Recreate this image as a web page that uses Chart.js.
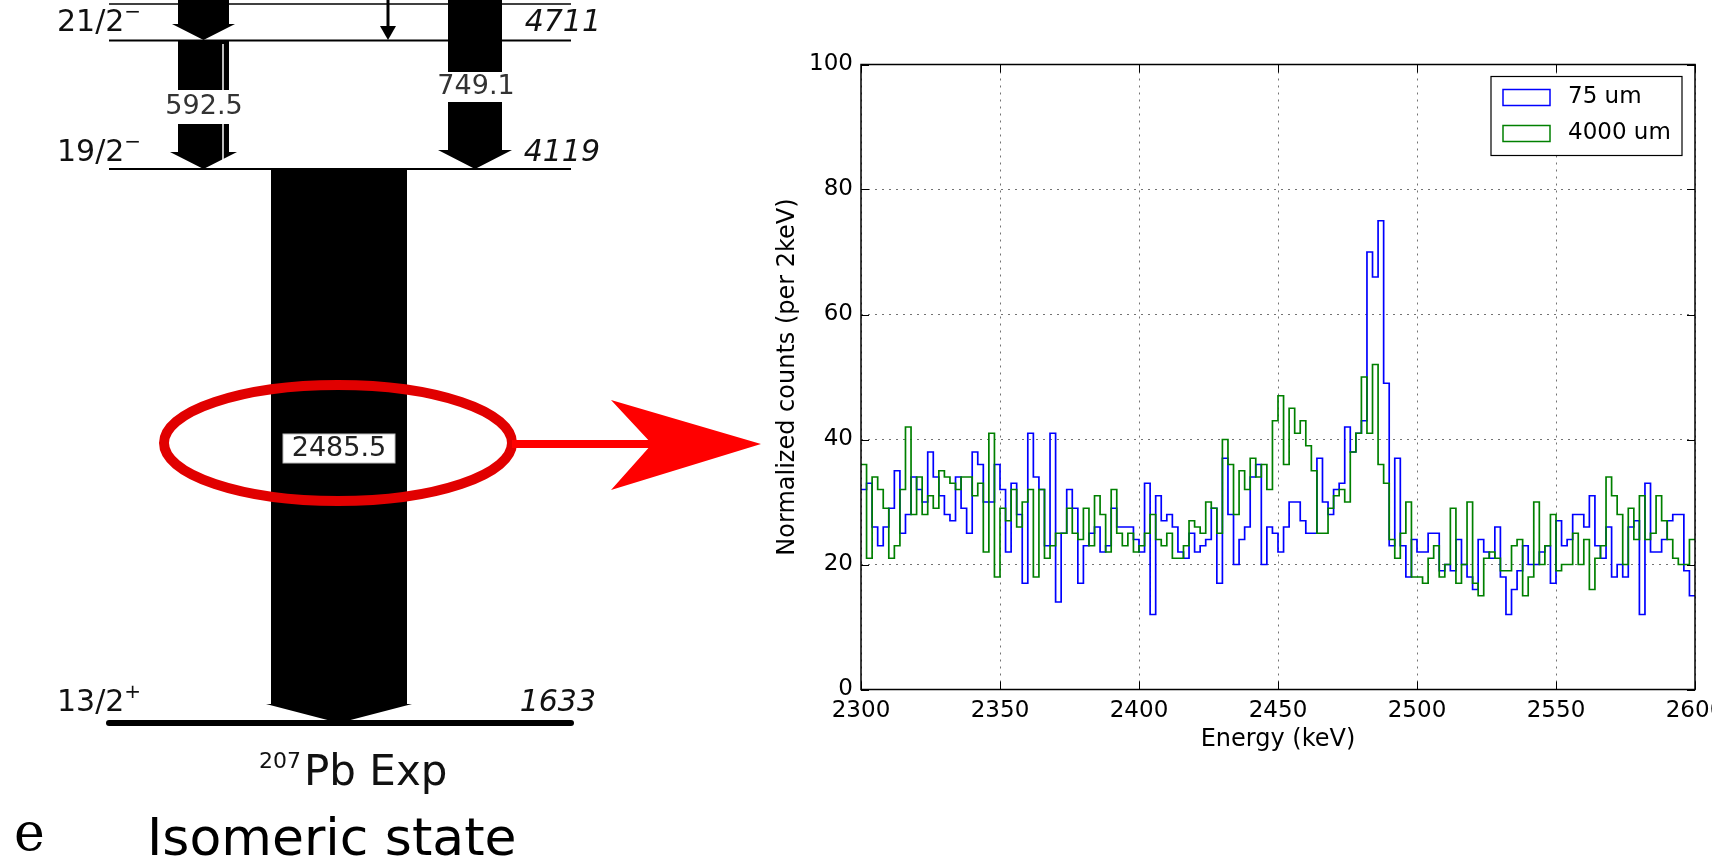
<!DOCTYPE html>
<html>
<head>
<meta charset="utf-8">
<script src="https://cdn.jsdelivr.net/npm/chart.js@4.4.1/dist/chart.umd.min.js"></script>
<style>
  html, body { margin: 0; padding: 0; background: #fff; overflow: hidden; }
  #page { position: relative; width: 1712px; height: 864px; }
  #scheme { position: absolute; left: 0; top: 0; }
  #box { position: absolute; left: 770px; top: 0; width: 942px; height: 864px; }
</style>
</head>
<body>
<div id="page">
  <canvas id="scheme" width="770" height="864"></canvas>
  <div id="box"><canvas id="spectrum"></canvas></div>
</div>
<script>
// histogram bins: 2 keV wide, starting at 2300 keV
const binStart = 2300;
const binWidth = 2;

// counts per bin, 75 um target
const counts75 = [
  32, 33, 26, 23, 26, 29, 35, 25, 28, 34, 32, 30, 38, 34, 31, 28, 27, 34, 29, 25,
  38, 36, 30, 30, 36, 32, 22, 33, 28, 17, 41, 34, 32, 23, 41, 14, 25, 32, 29, 17,
  23, 25, 26, 22, 23, 29, 26, 26, 26, 24, 22, 33, 12, 31, 27, 28, 26, 22, 21, 25,
  22, 23, 24, 29, 17, 37, 28, 20, 24, 26, 34, 36, 20, 26, 25, 22, 26, 30, 30, 27,
  25, 25, 37, 30, 28, 32, 33, 42, 38, 41, 43, 70, 66, 75, 49, 23, 37, 23, 18, 24,
  22, 22, 25, 25, 19, 20, 19, 24, 20, 18, 16, 24, 22, 21, 26, 18, 12, 16, 19, 23,
  20, 20, 22, 23, 17, 27, 23, 24, 28, 28, 26, 31, 23, 21, 26, 18, 20, 18, 26, 27,
  12, 33, 22, 22, 24, 27, 28, 28, 19, 15
];

// counts per bin, 4000 um target
const counts4000 = [
  36, 21, 34, 32, 29, 21, 23, 32, 42, 28, 34, 28, 31, 29, 35, 34, 33, 32, 34, 34,
  31, 33, 22, 41, 18, 29, 27, 32, 26, 30, 32, 18, 32, 21, 23, 25, 25, 29, 25, 24,
  29, 23, 31, 28, 22, 32, 25, 23, 25, 22, 23, 25, 28, 24, 23, 25, 21, 21, 23, 27,
  26, 25, 30, 29, 25, 40, 36, 28, 35, 32, 37, 34, 36, 32, 43, 47, 36, 45, 41, 43,
  39, 35, 25, 25, 29, 31, 32, 30, 38, 41, 50, 41, 52, 36, 33, 24, 21, 25, 30, 18,
  18, 17, 21, 23, 18, 20, 29, 17, 20, 30, 17, 15, 21, 22, 21, 19, 19, 23, 24, 15,
  18, 30, 20, 23, 28, 19, 20, 20, 25, 20, 24, 16, 21, 23, 34, 31, 28, 20, 29, 24,
  31, 24, 25, 31, 27, 24, 21, 20, 20, 24
];

const seriesLabels = ["75 um", "4000 um"];
const xTickValues = [2300, 2350, 2400, 2450, 2500, 2550, 2600];
const yTickValues = [0, 20, 40, 60, 80, 100];

// turn bin counts into step points (left edge of each bin + closing right edge)
function toSteps(counts) {
  const pts = counts.map((c, i) => ({ x: binStart + i * binWidth, y: c }));
  pts.push({ x: binStart + counts.length * binWidth, y: counts[counts.length - 1] });
  return pts;
}

// ---------- level scheme on the left (plain canvas) ----------
const sc = document.getElementById("scheme").getContext("2d");
sc.fillStyle = "#fff";
sc.fillRect(0, 0, 770, 864);

function level(y, w) {
  sc.strokeStyle = "#000";
  sc.lineWidth = w;
  sc.lineCap = w > 3 ? "round" : "butt";
  sc.beginPath();
  sc.moveTo(109, y);
  sc.lineTo(571, y);
  sc.stroke();
}

// block arrow: body x0..x1 from yTop down to yHead, shallow head to yTip
function blockArrow(x0, x1, yTop, yHead, yTip, wing) {
  const mid = (x0 + x1) / 2;
  sc.fillStyle = "#000";
  sc.beginPath();
  sc.moveTo(x0, yTop);
  sc.lineTo(x0, yHead);
  sc.lineTo(x0 - wing, yHead);
  sc.lineTo(mid, yTip);
  sc.lineTo(x1 + wing, yHead);
  sc.lineTo(x1, yHead);
  sc.lineTo(x1, yTop);
  sc.closePath();
  sc.fill();
}

function gapLabel(text, cx, cy, x0, x1, h, size) {
  sc.fillStyle = "#fff";
  sc.fillRect(x0, cy - h / 2, x1 - x0, h);
  sc.fillStyle = "#333";
  sc.font = size + "px 'DejaVu Sans'";
  sc.textAlign = "center";
  sc.textBaseline = "middle";
  sc.fillText(text, cx, cy);
}

level(4, 1.5);
level(40.5, 2);
level(169, 2);

// arrows into 21/2- from above
blockArrow(178, 229, 0, 24, 40, 6);
sc.strokeStyle = "#000";
sc.lineWidth = 3;
sc.beginPath(); sc.moveTo(388, 0); sc.lineTo(388, 28); sc.stroke();
sc.beginPath(); sc.moveTo(380, 26); sc.lineTo(388, 40); sc.lineTo(396, 26); sc.closePath(); sc.fill();

// 592.5 and 749.1
blockArrow(178, 229, 40, 152, 169, 8);
blockArrow(448, 502, 0, 150, 169, 10);
sc.strokeStyle = "#fff";
sc.lineWidth = 1.5;
sc.beginPath(); sc.moveTo(223, 44); sc.lineTo(223, 160); sc.stroke();
gapLabel("592.5", 204, 107, 175, 232, 34, 27);
gapLabel("749.1", 476, 87, 445, 505, 30, 27);

// big 2485.5 arrow
blockArrow(271, 407, 169, 704, 723, 5);
level(723, 6);

sc.fillStyle = "#fff";
sc.fillRect(283, 434, 112, 29);
sc.strokeStyle = "#bbb";
sc.lineWidth = 1;
sc.strokeRect(283, 434, 112, 29);
sc.fillStyle = "#222";
sc.font = "27px 'DejaVu Sans'";
sc.textAlign = "center";
sc.textBaseline = "middle";
sc.fillText("2485.5", 339, 449);

// level labels
function spinLabel(main, sup, x, cy) {
  sc.fillStyle = "#111";
  sc.textAlign = "left";
  sc.textBaseline = "middle";
  sc.font = "30px 'DejaVu Sans'";
  sc.fillText(main, x, cy);
  const w = sc.measureText(main).width;
  sc.font = "20px 'DejaVu Sans'";
  sc.fillText(sup, x + w, cy - 10);
}
function energyLabel(text, xr, cy) {
  sc.fillStyle = "#111";
  sc.textAlign = "right";
  sc.textBaseline = "middle";
  sc.font = "italic 30px 'DejaVu Sans'";
  sc.fillText(text, xr, cy);
}
spinLabel("21/2", "\u2212", 57, 23);
energyLabel("4711", 601, 23);
spinLabel("19/2", "\u2212", 57, 153);
energyLabel("4119", 600, 153);
spinLabel("13/2", "+", 57, 703);
energyLabel("1633", 596, 703);

// nucleus name
sc.fillStyle = "#111";
sc.textBaseline = "alphabetic";
sc.textAlign = "left";
sc.font = "22px 'DejaVu Sans'";
sc.fillText("207", 259, 768);
sc.font = "42px 'DejaVu Sans'";
sc.fillText("Pb Exp", 304, 785);

// caption
sc.fillStyle = "#000";
sc.font = "52px 'DejaVu Sans'";
sc.fillText("Isomeric state", 147, 855);
sc.font = "52px 'DejaVu Serif'";
sc.fillText("e", 14, 850);

// red ellipse and arrow
sc.strokeStyle = "rgb(225,0,0)";
sc.lineWidth = 10;
sc.beginPath();
sc.ellipse(338, 443, 174, 58, 0, 0, Math.PI * 2);
sc.stroke();
sc.fillStyle = "#ff0000";
sc.fillRect(512, 440, 145, 8);
sc.beginPath();
sc.moveTo(611, 400);
sc.lineTo(761, 444);
sc.lineTo(611, 490);
sc.lineTo(652, 444);
sc.closePath();
sc.fill();

// ---------- spectrum (Chart.js) ----------
Chart.defaults.font.family = "'DejaVu Sans'";
Chart.defaults.color = "#000";

const frameAndLegend = {
  id: "frameAndLegend",
  afterDraw(chart) {
    const { ctx, chartArea: a, scales } = chart;
    ctx.save();
    // axes frame
    ctx.strokeStyle = "#000";
    ctx.lineWidth = 1.5;
    ctx.strokeRect(a.left, a.top, a.right - a.left, a.bottom - a.top);
    // inward tick marks on all four sides
    const len = 8;
    ctx.lineWidth = 1;
    ctx.beginPath();
    scales.x.ticks.forEach((t) => {
      const px = Math.round(scales.x.getPixelForValue(t.value)) + 0.5;
      ctx.moveTo(px, a.bottom); ctx.lineTo(px, a.bottom - len);
      ctx.moveTo(px, a.top); ctx.lineTo(px, a.top + len);
    });
    scales.y.ticks.forEach((t) => {
      const py = Math.round(scales.y.getPixelForValue(t.value)) + 0.5;
      ctx.moveTo(a.left, py); ctx.lineTo(a.left + len, py);
      ctx.moveTo(a.right, py); ctx.lineTo(a.right - len, py);
    });
    ctx.stroke();

    // legend box, upper right
    const bw = 191, bh = 79;
    const bx = a.right - 13 - bw, by = a.top + 12;
    ctx.fillStyle = "#fff";
    ctx.fillRect(bx, by, bw, bh);
    ctx.strokeStyle = "#000";
    ctx.lineWidth = 1.2;
    ctx.strokeRect(bx, by, bw, bh);
    ctx.font = "23px 'DejaVu Sans'";
    ctx.textAlign = "left";
    ctx.textBaseline = "middle";
    chart.data.datasets.forEach((ds, i) => {
      const cy = by + 21 + i * 36;
      ctx.strokeStyle = ds.borderColor;
      ctx.lineWidth = 1.5;
      ctx.strokeRect(bx + 12, cy - 8, 47, 16);
      ctx.fillStyle = "#000";
      ctx.fillText(ds.label, bx + 77, cy);
    });
    ctx.restore();
  }
};

const gridStyle = { color: "rgba(0,0,0,0.55)", lineWidth: 1, drawTicks: false };

new Chart(document.getElementById("spectrum"), {
  type: "line",
  data: {
    datasets: [
      {
        label: seriesLabels[0],
        data: toSteps(counts75),
        borderColor: "#0000ff",
        borderWidth: 1.7,
        stepped: true,
        pointRadius: 0,
        fill: false,
        order: 1
      },
      {
        label: seriesLabels[1],
        data: toSteps(counts4000),
        borderColor: "#008000",
        borderWidth: 1.7,
        stepped: true,
        pointRadius: 0,
        fill: false,
        order: 0
      }
    ]
  },
  options: {
    responsive: true,
    maintainAspectRatio: false,
    animation: false,
    layout: { padding: { left: 0, right: 17, top: 64.5, bottom: 110 } },
    plugins: { legend: { display: false }, tooltip: { enabled: false } },
    scales: {
      x: {
        type: "linear",
        min: 2300,
        max: 2600,
        afterBuildTicks: (s) => { s.ticks = xTickValues.map((v) => ({ value: v })); },
        afterFit: (s) => { s.height = 64.5; s.paddingLeft = 0; s.paddingRight = 0; },
        ticks: {
          callback: (v) => String(v),
          font: { size: 23 },
          padding: 8,
          maxRotation: 0,
          autoSkip: false
        },
        grid: gridStyle,
        border: { display: false, dash: [2, 5] },
        title: {
          display: true,
          text: "Energy (keV)",
          font: { size: 24 },
          padding: { top: 0, bottom: 0 }
        }
      },
      y: {
        type: "linear",
        min: 0,
        max: 100,
        afterBuildTicks: (s) => { s.ticks = yTickValues.map((v) => ({ value: v })); },
        afterFit: (s) => { s.width = 91; s.paddingTop = 0; s.paddingBottom = 0; },
        ticks: {
          callback: (v) => String(v),
          font: { size: 23 },
          padding: 8
        },
        grid: gridStyle,
        border: { display: false, dash: [2, 5] },
        title: {
          display: true,
          text: "Normalized counts (per 2keV)",
          font: { size: 24 },
          padding: { top: 3, bottom: 0 }
        }
      }
    }
  },
  plugins: [frameAndLegend]
});
</script>
</body>
</html>
